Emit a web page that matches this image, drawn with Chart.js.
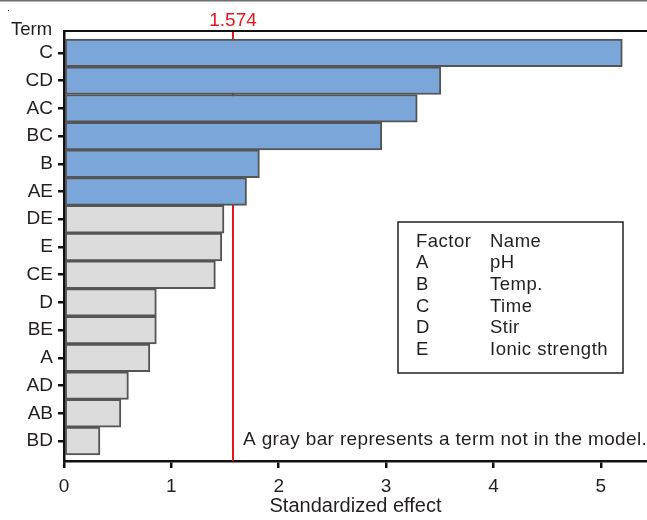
<!DOCTYPE html>
<html><head><meta charset="utf-8">
<script src="https://cdn.jsdelivr.net/npm/chart.js@4"></script>
<style>html,body{margin:0;padding:0;background:#fff}#wrap{width:647px;height:520px}</style>
</head><body><div id="wrap"><canvas id="c" width="647" height="520"></canvas></div>
<script>
// Pareto chart of standardized effects
const terms = ['C','CD','AC','BC','B','AE','DE','E','CE','D','BE','A','AD','AB','BD'];
const effects = [5.20,3.51,3.29,2.96,1.82,1.70,1.49,1.47,1.41,0.86,0.86,0.80,0.60,0.53,0.335];
const inModel = [true,true,true,true,true,true,false,false,false,false,false,false,false,false,false];
const threshold = 1.574;
const factorCodes = ['A','B','C','D','E'];
const factorNames = ['pH','Temp.','Time','Stir','Ionic strength'];

const INK = '#231f20';
const RED = '#e8141c';
const FONT = '"Liberation Sans", Arial, sans-serif';

const points = terms.map((t, i) => ({ x: effects[i], y: i }));

const overlay = {
  id: 'overlay',
  beforeDatasetsDraw(chart) {
    const { ctx, chartArea: a, scales } = chart;
    const xp = scales.x.getPixelForValue(threshold);
    ctx.save();
    ctx.strokeStyle = RED;
    ctx.lineWidth = 2;
    ctx.beginPath();
    ctx.moveTo(xp, a.top);
    ctx.lineTo(xp, a.bottom);
    ctx.stroke();
    ctx.restore();
  },
  afterDraw(chart) {
    const { ctx, chartArea: a, scales } = chart;
    const W = chart.width;
    const xp = scales.x.getPixelForValue(threshold);
    ctx.save();
    // frame lines
    ctx.strokeStyle = '#707070';
    ctx.lineWidth = 1.5;
    ctx.beginPath(); ctx.moveTo(0, 0.75); ctx.lineTo(W, 0.75); ctx.stroke();
    ctx.fillStyle = '#333';
    ctx.fillRect(8, 10, 1, 1);
    ctx.strokeStyle = '#111';
    ctx.lineWidth = 2;
    ctx.beginPath(); ctx.moveTo(a.left - 1, a.top); ctx.lineTo(W, a.top); ctx.stroke();

    ctx.textBaseline = 'middle';
    // axis heading
    ctx.font = '18.5px ' + FONT;
    ctx.fillStyle = INK;
    ctx.textAlign = 'left';
    ctx.fillText('Term', 11, 30);
    // threshold value
    ctx.font = '19px ' + FONT;
    ctx.fillStyle = RED;
    ctx.textAlign = 'center';
    ctx.fillText(threshold.toFixed(3), xp, 21);
    // note
    ctx.fillStyle = INK;
    ctx.textAlign = 'left';
    ctx.letterSpacing = '0.36px';
    ctx.fillText('A gray bar represents a term not in the model.', 243, 440);

    // factor table
    const bx = 398, by = 222, bw = 225, bh = 151;
    ctx.strokeStyle = '#222';
    ctx.lineWidth = 1.5;
    ctx.strokeRect(bx, by, bw, bh);
    ctx.font = '18.5px ' + FONT;
    ctx.letterSpacing = '0.5px';
    const rowH = 21.7;
    const y0 = 241.5;
    ctx.fillText('Factor', 416, y0);
    ctx.fillText('Name', 490, y0);
    factorCodes.forEach((c, i) => {
      const yy = y0 + (i + 1) * rowH;
      ctx.fillText(c, 416, yy);
      ctx.fillText(factorNames[i], 490, yy);
    });
    ctx.restore();
  }
};

new Chart(document.getElementById('c'), {
  type: 'bar',
  data: {
    datasets: [{
      data: points,
      backgroundColor: inModel.map(m => m ? '#7aa6d9' : '#dcdcdc'),
      borderColor: '#555555',
      borderWidth: 2,
      borderSkipped: false,
      categoryPercentage: 1,
      barPercentage: 1
    }]
  },
  options: {
    indexAxis: 'y',
    responsive: false,
    animation: false,
    devicePixelRatio: 1,
    layout: { padding: { top: 31, left: 0, right: 0, bottom: 0 } },
    plugins: { legend: { display: false }, tooltip: { enabled: false } },
    scales: {
      x: {
        type: 'linear',
        position: 'bottom',
        min: 0,
        max: 5.43,
        ticks: { stepSize: 1, includeBounds: false, color: INK, font: { size: 19, family: FONT }, padding: 7 },
        grid: { drawOnChartArea: false, tickLength: 7, color: '#111', lineWidth: 2.5 },
        border: { color: '#111', width: 2.5 },
        title: { display: true, text: 'Standardized effect', color: INK, font: { size: 20, family: FONT }, padding: { top: 0, bottom: 1.5 } },
        afterFit(s) { s.height = 59; }
      },
      y: {
        type: 'linear',
        reverse: true,
        offset: false,
        min: -0.79,
        max: 14.72,
        ticks: {
          stepSize: 1, includeBounds: false, autoSkip: false, color: INK,
          font: { size: 19, family: FONT }, padding: 5,
          callback: v => (Number.isInteger(v) && terms[v] !== undefined) ? terms[v] : ''
        },
        grid: { offset: false, drawOnChartArea: false, tickLength: 6, color: '#111', lineWidth: 2.5 },
        border: { color: '#111', width: 2.5 },
        afterFit(s) { s.width = 64; }
      }
    }
  },
  plugins: [overlay]
});
</script>
</body></html>
